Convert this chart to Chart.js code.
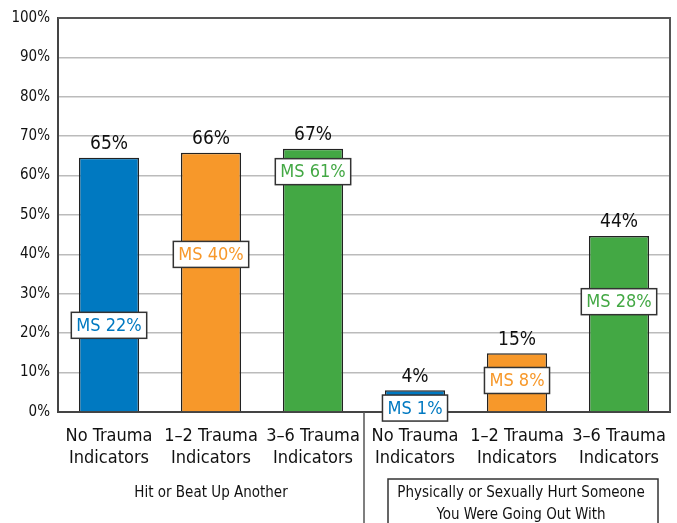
<!DOCTYPE html>
<html>
<head>
    <title>Trauma Indicators</title>
    <style>
        body {
            margin: 0;
            background: #fff;
        }
        #chart {
            display: block;
        }
    </style>
</head>
<body>
    <canvas id="chart" width="677" height="523"></canvas>

    <script src="https://cdn.jsdelivr.net/npm/chart.js"></script>
    <script>
        // chart data
        var categories = [
            ['No Trauma', 'Indicators'],
            ['1\u20132 Trauma', 'Indicators'],
            ['3\u20136 Trauma', 'Indicators'],
            ['No Trauma', 'Indicators'],
            ['1\u20132 Trauma', 'Indicators'],
            ['3\u20136 Trauma', 'Indicators']
        ];
        var barValues = [64.5, 65.8, 66.8, 5.5, 14.9, 44.7];
        var topLabels = ['65%', '66%', '67%', '4%', '15%', '44%'];
        var msValues = [22, 40, 61, 1, 8, 28];
        var msLabels = ['MS 22%', 'MS 40%', 'MS 61%', 'MS 1%', 'MS 8%', 'MS 28%'];
        var barColors = ['#0079c1', '#f7982a', '#43a844', '#0079c1', '#f7982a', '#43a844'];
        var groupLabels = [
            ['Hit or Beat Up Another'],
            ['Physically or Sexually Hurt Someone', 'You Were Going Out With']
        ];
        var yMax = 100;
        var yStep = 10;

        var FONT = "'Liberation Sans Narrow', 'DejaVu Sans Condensed', 'Roboto Condensed', Roboto, sans-serif";

        // labels, MS boxes, group captions and extra borders
        var decorPlugin = {
            id: 'decor',
            afterDatasetsDraw: function(chart) {
                var ctx = chart.ctx;
                var area = chart.chartArea;
                var xs = chart.scales.x;
                var ys = chart.scales.y;
                ctx.save();

                // top and right frame
                ctx.strokeStyle = '#555';
                ctx.lineWidth = 2;
                ctx.beginPath();
                ctx.moveTo(area.left, area.top);
                ctx.lineTo(area.right, area.top);
                ctx.lineTo(area.right, area.bottom);
                ctx.stroke();

                // value labels above bars
                ctx.font = '19px ' + FONT;
                ctx.fillStyle = '#111';
                ctx.textAlign = 'center';
                ctx.textBaseline = 'bottom';
                for (var i = 0; i < barValues.length; i++) {
                    var x = xs.getPixelForValue(i);
                    ctx.fillText(topLabels[i], x, ys.getPixelForValue(barValues[i]) - 4);
                }

                // MS boxes
                ctx.font = '18px ' + FONT;
                ctx.textBaseline = 'middle';
                for (var j = 0; j < msValues.length; j++) {
                    var cx = xs.getPixelForValue(j);
                    var cy = ys.getPixelForValue(msValues[j]);
                    var w = ctx.measureText(msLabels[j]).width + 10;
                    var h = 26;
                    ctx.fillStyle = '#fff';
                    ctx.fillRect(cx - w / 2, cy - h / 2, w, h);
                    ctx.strokeStyle = '#333';
                    ctx.lineWidth = 1.5;
                    ctx.strokeRect(cx - w / 2, cy - h / 2, w, h);
                    ctx.fillStyle = barColors[j];
                    ctx.fillText(msLabels[j], cx, cy + 1);
                }

                // divider between groups
                var midX = (xs.getPixelForValue(2) + xs.getPixelForValue(3)) / 2;
                ctx.strokeStyle = '#555';
                ctx.lineWidth = 1.5;
                ctx.beginPath();
                ctx.moveTo(midX, area.bottom);
                ctx.lineTo(midX, chart.height);
                ctx.stroke();

                // group captions
                ctx.font = '15px ' + FONT;
                ctx.fillStyle = '#111';
                var g1 = xs.getPixelForValue(1);
                ctx.fillText(groupLabels[0][0], g1, 493);

                var g2 = xs.getPixelForValue(4) + 4;
                ctx.strokeStyle = '#333';
                ctx.strokeRect(388, 479, 270, 60);
                for (var k = 0; k < groupLabels[1].length; k++) {
                    ctx.fillText(groupLabels[1][k], g2, 493 + k * 22);
                }

                ctx.restore();
            }
        };

        var ctx = document.getElementById('chart').getContext('2d');
        new Chart(ctx, {
            type: 'bar',
            data: {
                labels: categories,
                datasets: [{
                    data: barValues,
                    backgroundColor: barColors,
                    borderColor: '#222',
                    borderWidth: 1.5,
                    barPercentage: 0.59,
                    categoryPercentage: 1
                }]
            },
            options: {
                responsive: false,
                animation: false,
                layout: {
                    padding: { top: 18, right: 7, left: 0, bottom: 0 }
                },
                plugins: {
                    legend: { display: false },
                    tooltip: { enabled: false }
                },
                scales: {
                    x: {
                        grid: { display: false },
                        border: { color: '#444', width: 2 },
                        ticks: {
                            color: '#111',
                            font: { family: FONT, size: 18, lineHeight: 1.22 },
                            padding: 5,
                            maxRotation: 0,
                            autoSkip: false
                        },
                        afterFit: function(scale) { scale.height = 111; }
                    },
                    y: {
                        min: 0,
                        max: yMax,
                        grid: { color: '#bbb', lineWidth: 1.5, drawTicks: false },
                        border: { color: '#444', width: 2 },
                        ticks: {
                            stepSize: yStep,
                            color: '#111',
                            padding: 8,
                            font: { family: FONT, size: 15 },
                            callback: function(v) { return v + '%'; }
                        },
                        afterFit: function(scale) { scale.width = 58; }
                    }
                }
            },
            plugins: [decorPlugin]
        });
    </script>
</body>
</html>
